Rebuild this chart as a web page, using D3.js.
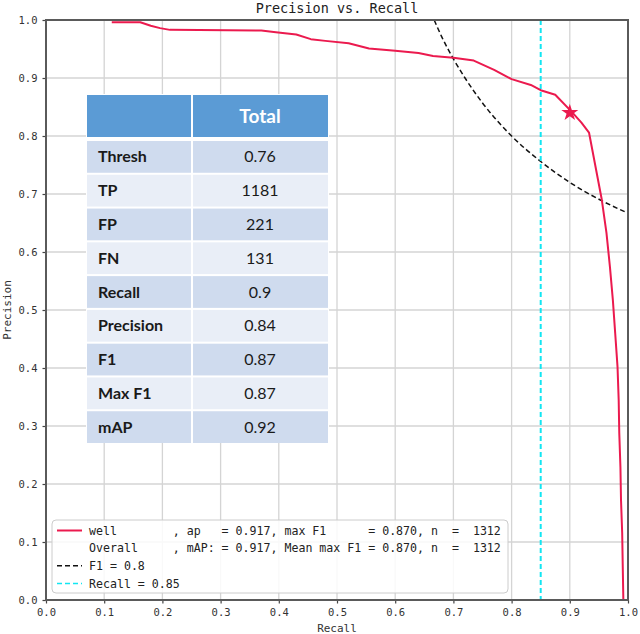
<!DOCTYPE html>
<html>
<head>
<meta charset="utf-8">
<script src="https://cdn.jsdelivr.net/npm/d3@7"></script>
<style>
  body { margin: 0; background: #fff; }
  svg { display: block; }
</style>
</head>
<body>
<svg id="chart"></svg>
<script>
// PR curve for "well" (recall, precision)
var prRecall = [0.113, 0.162, 0.18, 0.196, 0.213, 0.37, 0.395, 0.43, 0.455, 0.48, 0.52, 0.555, 0.6, 0.64, 0.665, 0.7, 0.735, 0.77, 0.8, 0.833, 0.85, 0.875, 0.903, 0.92, 0.933, 0.955, 0.963, 0.969, 0.974, 0.978, 0.982, 0.984, 0.985, 0.987, 0.988, 0.99, 0.991, 0.992, 0.995];
var prPrecision = [0.996, 0.996, 0.99, 0.986, 0.983, 0.982, 0.979, 0.975, 0.967, 0.964, 0.96, 0.951, 0.947, 0.943, 0.938, 0.935, 0.93, 0.914, 0.898, 0.888, 0.879, 0.871, 0.842, 0.823, 0.806, 0.69, 0.633, 0.574, 0.517, 0.46, 0.402, 0.345, 0.288, 0.229, 0.172, 0.116, 0.057, 0.0, 0.0];

// iso-F1 = 0.8 dashed curve
var f1Recall = [0.667, 0.68, 0.7, 0.72, 0.75, 0.78, 0.8, 0.85, 0.9, 0.95, 1.0];
var f1Precision = [1.0, 0.971, 0.933, 0.9, 0.857, 0.821, 0.8, 0.756, 0.72, 0.691, 0.667];

var bestPoint = {recall: 0.9, precision: 0.84};
var recallLine = 0.85;

var tableHeader = "Total";
var tableLabels = ["Thresh", "TP", "FP", "FN", "Recall", "Precision", "F1", "Max F1", "mAP"];
var tableValues = ["0.76", "1181", "221", "131", "0.9", "0.84", "0.87", "0.87", "0.92"];

var legendItems = [
  {text: "well        , ap   = 0.917, max F1      = 0.870, n  =  1312", kind: "red"},
  {text: "Overall     , mAP: = 0.917, Mean max F1 = 0.870, n  =  1312", kind: "none"},
  {text: "F1 = 0.8", kind: "f1"},
  {text: "Recall = 0.85", kind: "cyan"}
];

var ticks = [0, 0.1, 0.2, 0.3, 0.4, 0.5, 0.6, 0.7, 0.8, 0.9, 1.0];

var svgWidth = 640, svgHeight = 634;
var margin = {top: 20, right: 12, bottom: 34, left: 46};
var width = svgWidth - margin.left - margin.right;
var height = svgHeight - margin.top - margin.bottom;
var mono = "'DejaVu Sans Mono', monospace";
var red = "#eb1a4e";
var cyan = "#12e6f2";

var svg = d3.select("#chart")
    .attr("width", svgWidth)
    .attr("height", svgHeight);

var g = svg.append("g")
    .attr("transform", "translate(" + margin.left + "," + margin.top + ")");

var x = d3.scaleLinear().domain([0, 1]).range([0, width]);
var y = d3.scaleLinear().domain([0, 1]).range([height, 0]);

// grid
g.append("g").selectAll("line")
    .data(ticks).enter().append("line")
    .attr("x1", function(d) { return x(d); })
    .attr("x2", function(d) { return x(d); })
    .attr("y1", 0).attr("y2", height)
    .attr("stroke", "#d4d4d4").attr("stroke-width", 1.3);
g.append("g").selectAll("line")
    .data(ticks).enter().append("line")
    .attr("y1", function(d) { return y(d); })
    .attr("y2", function(d) { return y(d); })
    .attr("x1", 0).attr("x2", width)
    .attr("stroke", "#d4d4d4").attr("stroke-width", 1.3);

// axes
var xAxis = g.append("g")
    .attr("transform", "translate(0," + height + ")")
    .call(d3.axisBottom(x).tickValues(ticks).tickFormat(d3.format(".1f")).tickSize(3.5).tickPadding(5));
var yAxis = g.append("g")
    .call(d3.axisLeft(y).tickValues(ticks).tickFormat(d3.format(".1f")).tickSize(3.5).tickPadding(5));
[xAxis, yAxis].forEach(function(a) {
    a.select(".domain").remove();
    a.selectAll(".tick line").attr("stroke", "#444").attr("stroke-width", 1.2);
    a.selectAll(".tick text")
        .attr("font-family", mono)
        .attr("font-size", "10.5px")
        .attr("fill", "#333");
});

// F1 iso line
g.append("path")
    .datum(d3.zip(f1Recall, f1Precision))
    .attr("fill", "none")
    .attr("stroke", "#111")
    .attr("stroke-width", 1.5)
    .attr("stroke-dasharray", "5,3")
    .attr("d", d3.line()
        .curve(d3.curveMonotoneX)
        .x(function(d) { return x(d[0]); })
        .y(function(d) { return y(d[1]); }));

// recall = 0.85
g.append("line")
    .attr("x1", x(recallLine)).attr("x2", x(recallLine))
    .attr("y1", 0).attr("y2", height)
    .attr("stroke", cyan)
    .attr("stroke-width", 2)
    .attr("stroke-dasharray", "5,3");

// PR curve
g.append("path")
    .datum(d3.zip(prRecall, prPrecision))
    .attr("fill", "none")
    .attr("stroke", red)
    .attr("stroke-width", 2)
    .attr("stroke-linejoin", "round")
    .attr("d", d3.line()
        .x(function(d) { return x(d[0]); })
        .y(function(d) { return y(d[1]); }));

g.append("path")
    .attr("d", d3.symbol().type(d3.symbolStar).size(90)())
    .attr("transform", "translate(" + x(bestPoint.recall) + "," + y(bestPoint.precision) + ")")
    .attr("fill", red);

// frame
g.append("rect")
    .attr("width", width).attr("height", height)
    .attr("fill", "none")
    .attr("stroke", "#5a5a5a")
    .attr("stroke-width", 2);

// title + axis labels
svg.append("text")
    .attr("x", margin.left + width / 2).attr("y", 13)
    .attr("text-anchor", "middle")
    .attr("font-family", mono).attr("font-size", "13.5px").attr("fill", "#222")
    .text("Precision vs. Recall");
svg.append("text")
    .attr("x", margin.left + width / 2).attr("y", 632)
    .attr("text-anchor", "middle")
    .attr("font-family", mono).attr("font-size", "11px").attr("fill", "#333")
    .text("Recall");
svg.append("text")
    .attr("transform", "translate(11," + (margin.top + height / 2) + ") rotate(-90)")
    .attr("text-anchor", "middle")
    .attr("font-family", mono).attr("font-size", "11px").attr("fill", "#333")
    .text("Precision");

// legend
var lg = svg.append("g").attr("transform", "translate(52,520)");
lg.append("rect")
    .attr("width", 456).attr("height", 73)
    .attr("rx", 4)
    .attr("fill", "rgba(255,255,255,0.85)")
    .attr("stroke", "#cccccc");
var rowY = d3.scaleLinear().domain([0, 3]).range([10.5, 63.5]);
legendItems.forEach(function(it, i) {
    var yy = rowY(i);
    if (it.kind === "red") {
        lg.append("line").attr("x1", 5).attr("x2", 30).attr("y1", yy).attr("y2", yy)
            .attr("stroke", red).attr("stroke-width", 2);
    } else if (it.kind === "f1") {
        lg.append("line").attr("x1", 5).attr("x2", 30).attr("y1", yy).attr("y2", yy)
            .attr("stroke", "#111").attr("stroke-width", 1.5).attr("stroke-dasharray", "5,3");
    } else if (it.kind === "cyan") {
        lg.append("line").attr("x1", 5).attr("x2", 30).attr("y1", yy).attr("y2", yy)
            .attr("stroke", cyan).attr("stroke-width", 1.5).attr("stroke-dasharray", "5,3");
    }
    lg.append("text")
        .attr("x", 37).attr("y", yy).attr("dy", "0.35em")
        .attr("font-family", mono).attr("font-size", "11.6px").attr("fill", "#222")
        .attr("xml:space", "preserve")
        .style("white-space", "pre")
        .text(it.text);
});

// stats table overlay
var tx0 = 87, tx1 = 192, tx2 = 328;
var tg = svg.append("g");
tg.append("rect")
    .attr("x", tx0 - 1).attr("y", 94)
    .attr("width", tx2 - tx0 + 2).attr("height", 349)
    .attr("fill", "#ffffff");
tg.append("rect").attr("x", tx0).attr("y", 95).attr("width", tx1 - tx0 - 1).attr("height", 42).attr("fill", "#5b9bd5");
tg.append("rect").attr("x", tx1 + 1).attr("y", 95).attr("width", tx2 - tx1 - 1).attr("height", 42).attr("fill", "#5b9bd5");
tg.append("text")
    .attr("x", (tx1 + tx2) / 2).attr("y", 116).attr("dy", "0.35em")
    .attr("text-anchor", "middle")
    .attr("font-family", "Lato, 'Open Sans', sans-serif").attr("font-weight", "bold")
    .attr("font-size", "19px").attr("fill", "#fff")
    .text(tableHeader);

var rowBand = d3.scaleBand().domain(tableLabels).range([141, 443]).paddingInner(0.06);
var rows = tg.selectAll("g.row").data(tableLabels).enter().append("g");
rows.append("rect")
    .attr("x", tx0).attr("y", function(d) { return rowBand(d); })
    .attr("width", tx1 - tx0 - 1).attr("height", rowBand.bandwidth())
    .attr("fill", function(d, i) { return i % 2 === 0 ? "#cfdbee" : "#e9eef7"; });
rows.append("rect")
    .attr("x", tx1 + 1).attr("y", function(d) { return rowBand(d); })
    .attr("width", tx2 - tx1 - 1).attr("height", rowBand.bandwidth())
    .attr("fill", function(d, i) { return i % 2 === 0 ? "#cfdbee" : "#e9eef7"; });
rows.append("text")
    .attr("x", tx0 + 11).attr("y", function(d) { return rowBand(d) + rowBand.bandwidth() / 2; })
    .attr("dy", "0.35em")
    .attr("font-family", "Lato, 'Open Sans', sans-serif").attr("font-weight", "bold")
    .attr("font-size", "16px").attr("fill", "#1a1a1a")
    .text(function(d) { return d; });
rows.append("text")
    .attr("x", (tx1 + tx2) / 2).attr("y", function(d) { return rowBand(d) + rowBand.bandwidth() / 2; })
    .attr("dy", "0.35em")
    .attr("text-anchor", "middle")
    .attr("font-family", "Lato, 'Open Sans', sans-serif")
    .attr("font-size", "16px").attr("fill", "#1a1a1a")
    .text(function(d, i) { return tableValues[i]; });
</script>
</body>
</html>
